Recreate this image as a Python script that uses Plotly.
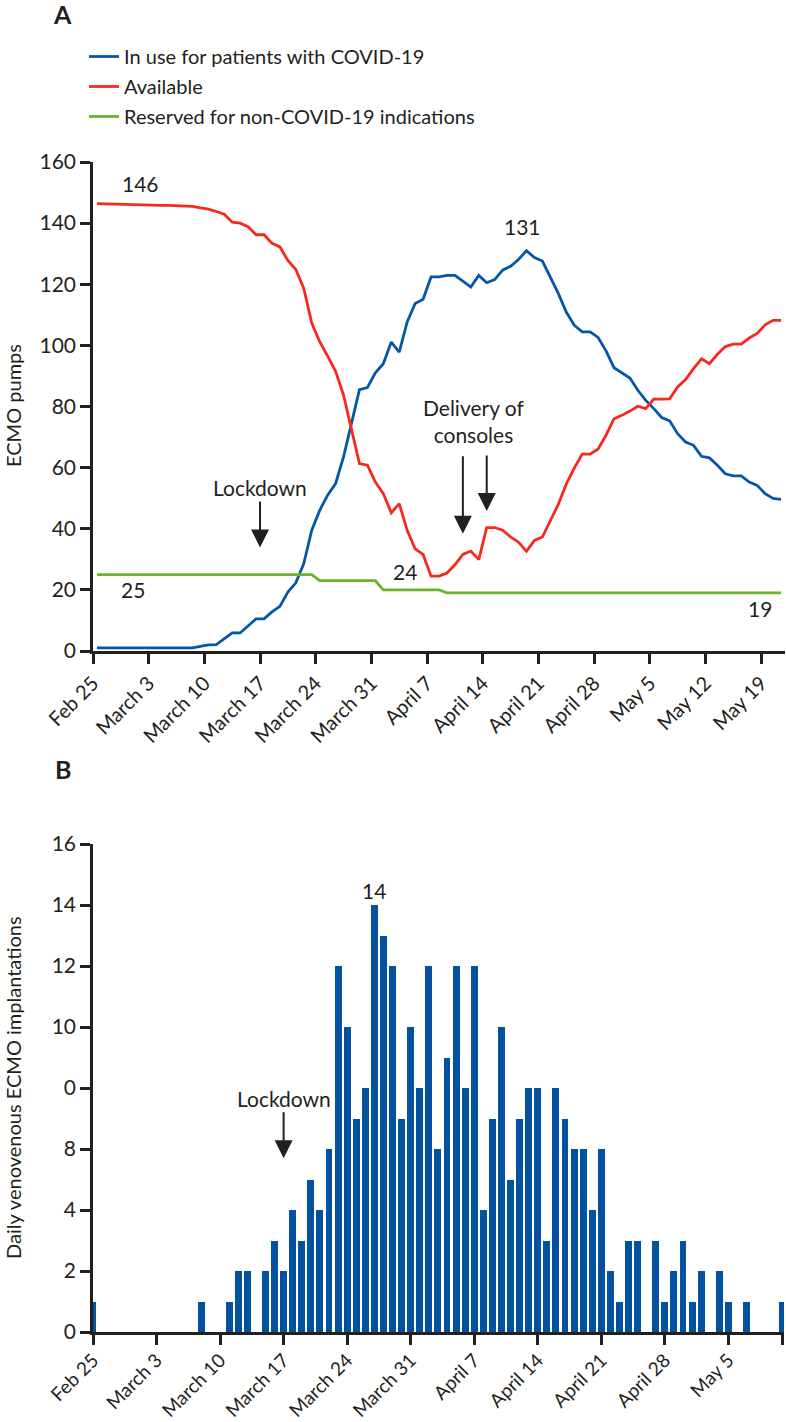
import plotly.graph_objects as go
import pandas as pd

# ---------------- Panel A data (daily, Feb 25 – May 21, 2020) ----------------
dates_a = pd.date_range("2020-02-25 12:00", periods=87, freq="D")

in_use = [1, 1, 1, 1, 1, 1, 1, 1, 1, 1, 1, 1, 1,
          1.5, 2, 2.1, 4, 5.9, 5.9, 8.1, 10.5, 10.5, 12.8, 14.6, 19.3, 22.3, 28.6,
          39.5, 46, 51, 54.8, 63.5, 75, 85.5, 86.2, 91, 94, 101.1, 97.8, 107.7,
          113.7, 115.1, 122.4, 122.4, 122.9, 122.9, 121, 119.1, 122.9, 120.5, 121.5,
          124.6, 125.9, 128.1, 131, 128.7, 127.6, 122.4, 117, 110.9, 106.6, 104.4,
          104.4, 102.6, 98.2, 92.7, 91, 89.3, 85.3, 82, 79.3, 76.4, 75.3, 71.1, 68.4,
          67.3, 63.7, 63.2, 60.8, 58, 57.3, 57.3, 55.3, 54.2, 51.5, 49.9, 49.6]

available = [146.4, 146.3, 146.2, 146.1, 146.0, 146.0, 145.9, 145.9, 145.8, 145.8,
             145.7, 145.6, 145.5, 145.0, 144.6, 143.8, 142.9, 140.3, 140.0, 138.8,
             136.2, 136.2, 133.4, 132.2, 127.8, 124.8, 118.6, 107.3, 101.2, 96.5,
             91.5, 83.7, 72.2, 61.3, 60.8, 55.3, 51.5, 45.2, 48.2, 39.5, 33.4, 31.6,
             24.5, 24.5, 25.5, 28.2, 31.6, 32.7, 29.9, 40.4, 40.4, 39.5, 37.3, 35.6,
             32.6, 36.2, 37.3, 42.8, 48, 54.6, 59.8, 64.4, 64.4, 66.1, 70.6, 76, 77.1,
             78.5, 80.1, 79.3, 82.4, 82.4, 82.5, 86.4, 88.8, 92.4, 95.6, 94, 97.1,
             99.6, 100.4, 100.4, 102.4, 103.9, 106.7, 108.2, 108.2]

reserved = [25] * 28 + [23] * 8 + [20] * 8 + [19] * 43

# ---------------- Panel B data (daily, Feb 25 – May 11, 2020) ----------------
dates_b = pd.date_range("2020-02-25", periods=77, freq="D")
implantations = [1,
                 0, 0, 0, 0, 0, 0, 0, 0, 0, 0, 0,
                 1, 0, 0, 1, 2, 2, 0, 2, 3, 2, 4, 3, 5, 4, 6, 12, 10, 7, 8, 14, 13, 12, 7, 10,
                 8, 12, 6, 9, 12, 8, 12, 4, 7, 10, 5, 7, 8, 8, 3, 8, 7, 6, 6, 4, 6, 2, 1, 3, 3,
                 0, 3, 1, 2, 3,
                 1, 2, 0, 2, 1, 0, 1, 0, 0, 0, 1]

ticks_a = ["2020-02-25", "2020-03-03", "2020-03-10", "2020-03-17", "2020-03-24",
           "2020-03-31", "2020-04-07", "2020-04-14", "2020-04-21", "2020-04-28",
           "2020-05-05", "2020-05-12", "2020-05-19"]
ticktext_a = ["Feb 25", "March 3", "March 10", "March 17", "March 24", "March 31",
              "April 7", "April 14", "April 21", "April 28", "May 5", "May 12", "May 19"]
ticks_b = ["2020-02-25", "2020-03-03", "2020-03-10", "2020-03-17", "2020-03-24",
           "2020-03-31", "2020-04-07", "2020-04-14", "2020-04-21", "2020-04-28",
           "2020-05-05", "2020-05-11"]
ticktext_b = ["Feb 25", "March 3", "March 10", "March 17", "March 24", "March 31",
              "April 7", "April 14", "April 21", "April 28", "May 5", ""]
yticks_b = [0, 2, 4, 6, 8, 10, 12, 14, 16]
yticktext_b = ["0", "2", "4", "8", "0", "10", "12", "14", "16"]

BLUE = "#0656a6"
RED = "#f52a1d"
GREEN = "#6ab42e"
BAR = "#0252a0"
INK = "#231f20"
FONT = "Lato"
W, H = 786, 1422

fig = go.Figure()
fig.add_trace(go.Scatter(x=dates_a, y=in_use, mode="lines", name="In use for patients with COVID-19",
                         line=dict(color=BLUE, width=2.8), legendgroup="a", xaxis="x", yaxis="y"))
fig.add_trace(go.Scatter(x=dates_a, y=available, mode="lines", name="Available",
                         line=dict(color=RED, width=2.8), legendgroup="b", xaxis="x", yaxis="y"))
fig.add_trace(go.Scatter(x=dates_a, y=reserved, mode="lines", name="Reserved for non-COVID-19 indications",
                         line=dict(color=GREEN, width=2.8), legendgroup="c", xaxis="x", yaxis="y"))
fig.add_trace(go.Bar(x=dates_b, y=implantations, marker=dict(color=BAR, line=dict(width=0)),
                     width=0.76 * 86400000, showlegend=False, xaxis="x2", yaxis="y2"))

axis_common = dict(showgrid=False, zeroline=False, showline=True, linecolor=INK, linewidth=2.5,
                   ticks="outside", ticklen=10, tickwidth=2.5, tickcolor=INK, automargin=False)
yfont = dict(family=FONT, size=21, color=INK)
xfont = dict(family=FONT, size=20, color=INK)
xfont_b = dict(family=FONT, size=19, color=INK)

fig.update_layout(
    width=W, height=H, margin=dict(l=0, r=0, t=0, b=0),
    paper_bgcolor="white", plot_bgcolor="white",
    font=dict(family=FONT, size=20, color=INK),
    showlegend=True,
    legend=dict(x=84 / W, y=1 - 37 / H, xanchor="left", yanchor="top",
                font=dict(family=FONT, size=20, color=INK), traceorder="grouped",
                tracegroupgap=1, bgcolor="rgba(0,0,0,0)"),
    xaxis=dict(domain=[93 / W, 785 / W], anchor="y", type="date",
               range=["2020-02-25", "2020-05-22"], tickvals=ticks_a, ticktext=ticktext_a,
               tickangle=-45, tickfont=xfont, **axis_common),
    yaxis=dict(domain=[1 - 651 / H, 1 - 162 / H], anchor="x", range=[0, 160],
               tickvals=list(range(0, 161, 20)), tickfont=yfont, **axis_common),
    xaxis2=dict(domain=[93 / W, 784 / W], anchor="y2", type="date",
                range=["2020-02-25", "2020-05-11 03:00"], tickvals=ticks_b, ticktext=ticktext_b,
                tickangle=-45, tickfont=xfont_b, ticklabelstandoff=-3, **axis_common),
    yaxis2=dict(domain=[1 - 1332 / H, 1 - 844 / H], anchor="x2", range=[0, 16],
                tickvals=yticks_b, ticktext=yticktext_b, tickfont=yfont, **axis_common),
    bargap=0,
)

ann = []
# panel labels
ann.append(dict(text="<b>A</b>", x=63 / W, y=1 - 14 / H, xref="paper", yref="paper",
                xanchor="center", yanchor="middle", showarrow=False,
                font=dict(family=FONT, size=25, color=INK)))
ann.append(dict(text="<b>B</b>", x=63 / W, y=1 - 769 / H, xref="paper", yref="paper",
                xanchor="center", yanchor="middle", showarrow=False,
                font=dict(family=FONT, size=25, color=INK)))
# axis titles
ann.append(dict(text="ECMO pumps", x=13 / W, y=1 - 406 / H, xref="paper", yref="paper",
                xanchor="center", yanchor="middle", textangle=-90, showarrow=False,
                font=dict(family=FONT, size=20, color=INK)))
ann.append(dict(text="Daily venovenous ECMO implantations", x=13 / W, y=1 - 1088 / H,
                xref="paper", yref="paper", xanchor="center", yanchor="middle",
                textangle=-90, showarrow=False, font=dict(family=FONT, size=20, color=INK)))
# value labels panel A
for t, x, y in [("146", "2020-03-01 22:00", 153), ("131", "2020-04-19", 139),
                ("25", "2020-03-01 02:00", 20), ("24", "2020-04-04 05:00", 26),
                ("19", "2020-05-18 22:00", 14)]:
    ann.append(dict(text=t, x=x, y=y, xref="x", yref="y", showarrow=False,
                    xanchor="center", yanchor="middle",
                    font=dict(family=FONT, size=21, color=INK)))
# lockdown arrow panel A
ann.append(dict(text="Lockdown", x="2020-03-17", y=33.9, xref="x", yref="y", ax=0, ay=-60,
                showarrow=True, arrowhead=2, arrowsize=1.8, arrowwidth=2, arrowcolor=INK,
                font=dict(family=FONT, size=21, color=INK)))
# delivery of consoles
ann.append(dict(text="Delivery of<br>consoles", x="2020-04-12 22:00", y=75.3, xref="x", yref="y",
                xanchor="center", yanchor="middle", showarrow=False,
                font=dict(family=FONT, size=21, color=INK)))
ann.append(dict(text="", x="2020-04-11 12:00", y=38.4, xref="x", yref="y", ax=0, ay=-79,
                showarrow=True, arrowhead=2, arrowsize=1.8, arrowwidth=2, arrowcolor=INK))
ann.append(dict(text="", x="2020-04-14 12:00", y=45.8, xref="x", yref="y", ax=0, ay=-57,
                showarrow=True, arrowhead=2, arrowsize=1.8, arrowwidth=2, arrowcolor=INK))
# panel B labels
ann.append(dict(text="14", x="2020-03-27", y=14, xref="x2", yref="y2", yanchor="bottom",
                xanchor="center", showarrow=False, font=dict(family=FONT, size=21, color=INK)))
ann.append(dict(text="Lockdown", x="2020-03-17", y=5.7, xref="x2", yref="y2", ax=0, ay=-60,
                showarrow=True, arrowhead=2, arrowsize=1.8, arrowwidth=2, arrowcolor=INK,
                font=dict(family=FONT, size=21, color=INK)))
fig.update_layout(annotations=ann)

fig.write_html("out.html", config={"displayModeBar": False},
               post_script="document.body.style.margin='0';document.body.style.padding='0';")
